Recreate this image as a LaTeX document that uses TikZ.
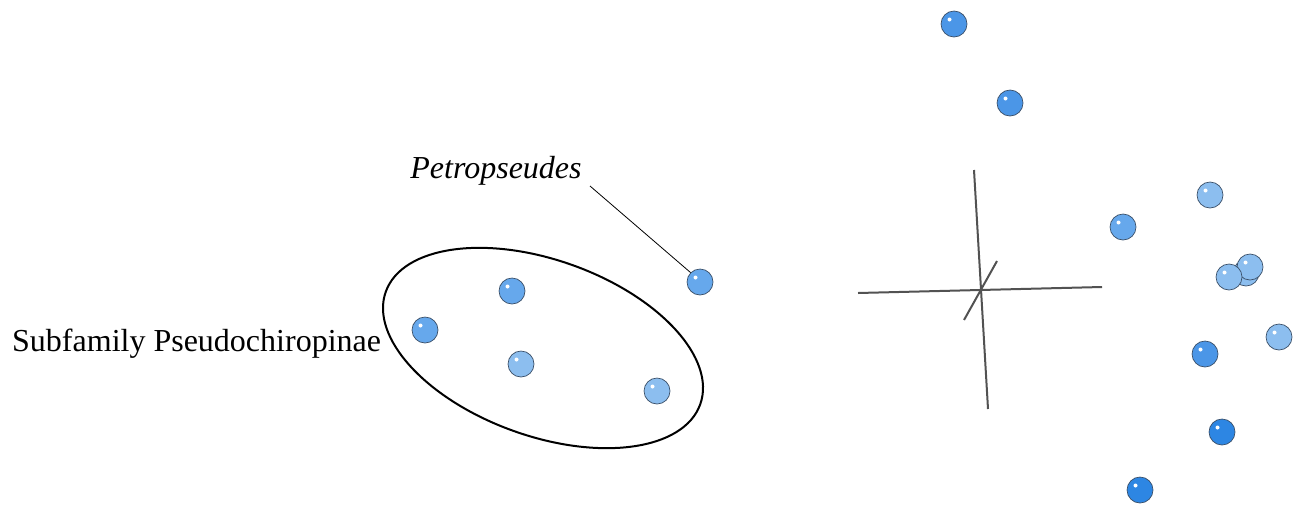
\documentclass[tikz,border=0pt]{standalone}
\usepackage{fontspec}
\setmainfont{Liberation Serif}
\begin{document}
\begin{tikzpicture}[x=1pt,y=-1pt,
  axisline/.style={draw=black!68,line width=2pt},
  ballL/.style={circle,minimum size=26pt,inner sep=0pt,draw=ballrim,line width=0.7pt,fill=lightball},
  ballM/.style={ballL,fill=medball},
  ballD/.style={ballL,fill=darkball},
  ballX/.style={ballL,fill=deepball},
  lbl/.style={font=\fontsize{32}{37}\selectfont,inner sep=0pt}]
\definecolor{lightball}{HTML}{8CBEEF}
\definecolor{medball}{HTML}{66A8EC}
\definecolor{darkball}{HTML}{4B96E7}
\definecolor{deepball}{HTML}{2D86E3}
\definecolor{ballrim}{HTML}{3A4F68}
\useasboundingbox (0,0) rectangle (1300,504);
\newcommand{\shine}[1]{\fill[white] ([shift={(-4.5,-4.5)}]#1.center) circle (2pt);}
% axes
\draw[axisline] (858,293) -- (1102,287);
\draw[axisline] (974,170) -- (988,409);
\draw[axisline] (964,320) -- (997,261);
% ellipse
\draw[line width=2pt] (543,348) ellipse[x radius=167,y radius=88,rotate=-19.7];
% left balls
\node[ballM] (b1) at (512,291) {}; \shine{b1}
\node[ballM] (b2) at (425,330) {}; \shine{b2}
\node[ballL] (b3) at (521,364) {}; \shine{b3}
\node[ballL] (b4) at (657,391) {}; \shine{b4}
\node[ballM] (b5) at (700,282) {}; \shine{b5}
% right balls
\node[ballD] (r1) at (954,24) {}; \shine{r1}
\node[ballD] (r2) at (1010,103) {}; \shine{r2}
\node[ballL] (r3) at (1210,195) {}; \shine{r3}
\node[ballM] (r4) at (1123,227) {}; \shine{r4}
\node[ballL] (r5) at (1246,273) {};
\node[ballL] (r6) at (1250,267) {}; \shine{r6}
\node[ballL] (r7) at (1229,277) {}; \shine{r7}
\node[ballL] (r8) at (1279,337) {}; \shine{r8}
\node[ballD] (r9) at (1205,354) {}; \shine{r9}
\node[ballX] (r10) at (1222,432) {}; \shine{r10}
\node[ballX] (r11) at (1140,490) {}; \shine{r11}
% labels
\node[lbl,font=\fontsize{32}{37}\selectfont\itshape] (pet) at (496,171) {Petropseudes};
\coordinate (petend) at (590,186);
\draw[line width=0.8pt] (petend) -- (b5.north west);
\node[lbl,anchor=west] (sub) at (12,344) {Subfamily Pseudochiropinae};
\end{tikzpicture}
\end{document}
